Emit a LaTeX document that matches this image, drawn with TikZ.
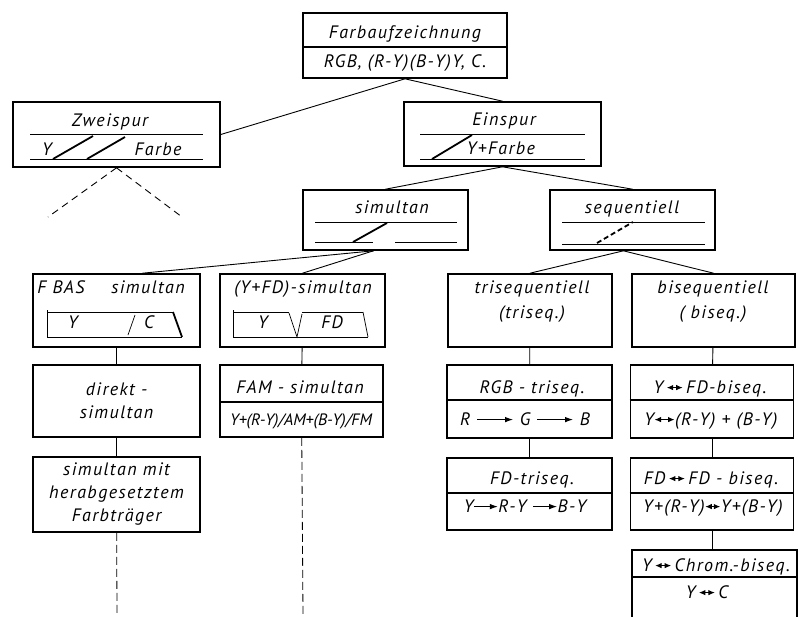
\documentclass[tikz,border=0pt]{standalone}
\usepackage{fontspec}
\setmainfont{PT Sans}
\newfontfamily\weitfont{PT Sans}[LetterSpace=8]
\usepackage{tikz}
\usetikzlibrary{arrows.meta,positioning,calc}

\newcommand{\nach}[1][20pt]{\tikz[baseline=-0.6ex]\draw[line width=1pt,-{Latex[length=8pt,width=5.5pt]}] (0pt,0pt) -- (#1,0pt);}
\newcommand{\hinher}[1][16pt]{\tikz[baseline=-0.6ex]\draw[line width=1pt,{Latex[length=6.5pt,width=5.5pt]}-{Latex[length=6.5pt,width=5.5pt]}] (0pt,0pt) -- (#1,0pt);}

\begin{document}
\begin{tikzpicture}[x=1pt, y=-1pt, >=Latex,
  every node/.style={font=\weitfont\itshape\fontsize{18}{23}\selectfont, align=center, inner sep=0pt},
  eng/.style={font=\normalfont\itshape\fontsize{16.5}{20}\selectfont},
  kasten/.style={draw, line width=1.6pt, minimum width=165pt, minimum height=73pt},
  ast/.style={line width=0.9pt},
  spur/.style={line width=0.7pt},
  schraeg/.style={line width=1.8pt},
  teil/.style={line width=1.1pt}]
\useasboundingbox (0,0) rectangle (798,616);

% Kaesten
\node (farb) [kasten, minimum width=204pt, minimum height=65pt] at (405,45.5) {};
\node (zwei) [kasten, minimum width=207pt, minimum height=65pt] at (116.5,134.5) {};
\node (ein) [kasten, minimum width=197pt, minimum height=64pt] at (502.5,134) {};
\node (simul) [kasten, minimum height=60pt] at (385.5,220) {};
\node (seq) [kasten, minimum height=60pt] at (632.5,220) {};
\node (fbas) [kasten, minimum width=167pt] at (116.5,310.5) {};
\node (yfd) [kasten] at (302.5,310.5) {};
\node (tri) [kasten, minimum width=164pt] at (530,310.5) {};
\node (bi) [kasten, minimum width=163pt] at (713.5,310.5) {};
\node (direkt) [kasten, minimum width=167pt, minimum height=72pt] at (116.5,401) {direkt -\\simultan};
\node (fam) [kasten, minimum width=163pt, minimum height=72pt] at (301.5,401) {};
\node (rgb) [kasten] at (529.5,401.5) {};
\node (yfdbi) [kasten, minimum width=163pt] at (712,401.5) {};
\node (mit) [kasten, minimum width=167pt, minimum height=75pt] at (116.5,494.5) {simultan mit\\herabgesetztem\\Farbträger};
\node (fdtri) [kasten, minimum height=72pt] at (529.5,494) {};
\node (fdfd) [kasten, minimum width=163pt, minimum height=72pt] at (712,494) {};
\node (chrom) [kasten, minimum height=80pt] at (714.5,590) {};

% Trennlinien
\draw[teil] (farb.west |- 0,47) -- (farb.east |- 0,47);
\draw[teil] (fam.west |- 0,402) -- (fam.east |- 0,402);
\draw[teil] (rgb.west |- 0,400) -- (rgb.east |- 0,400);
\draw[teil] (yfdbi.west |- 0,400) -- (yfdbi.east |- 0,400);
\draw[teil] (fdtri.west |- 0,493) -- (fdtri.east |- 0,493);
\draw[teil] (fdfd.west |- 0,493) -- (fdfd.east |- 0,493);
\draw[teil] (chrom.west |- 0,577) -- (chrom.east |- 0,577);

% Beschriftungen
\node (farbA) [anchor=base] at (405,38) {Farbaufzeichnung};
\node (farbB) [anchor=base] at (405,67) {RGB, (R-Y)(B-Y)Y, C.};
\node (zweiA) [anchor=base] at (110,126) {Zweispur};
\node (zweiY) [anchor=base] at (47,155) {Y};
\node (zweiF) [anchor=base] at (158,155) {Farbe};
\node (einA) [anchor=base] at (504,125) {Einspur};
\node (einB) [anchor=base] at (501,154) {Y+Farbe};
\node (simulA) [anchor=base] at (392,213) {simultan};
\node (seqA) [anchor=base] at (632,213) {sequentiell};
\node (fbasA) [anchor=base] at (61,293) {F BAS};
\node (fbasB) [anchor=base] at (148,293) {simultan};
\node (fbasY) [anchor=base] at (73,328) {Y};
\node (fbasC) [anchor=base] at (149,328) {C};
\node (yfdA) [anchor=base] at (303,293) {(Y+FD)-simultan};
\node (yfdY) [anchor=base] at (263,328) {Y};
\node (yfdF) [anchor=base] at (332,328) {FD};
\node (triA) [anchor=base] at (532,293) {trisequentiell};
\node (triB) [anchor=base] at (532,318) {(triseq.)};
\node (biA) [anchor=base] at (713,293) {bisequentiell};
\node (biB) [anchor=base] at (713,318) {( biseq.)};
\node (famA) [anchor=base] at (300,393) {FAM - simultan};
\node (famB) [anchor=base, eng] at (301,425) {Y+(R-Y)/AM+(B-Y)/FM};
\node (rgbA) [anchor=base] at (532,393) {RGB - triseq.};
\node (rgbB) [anchor=base] at (525,425) {R \nach[36pt] G \nach[36pt] B};
\node (yfdbiA) [anchor=base] at (710,393) {Y\,\hinher\,FD-biseq.};
\node (yfdbiB) [anchor=base] at (711,425) {Y\hinher[20pt](R-Y) + (B-Y)};
\node (fdtriA) [anchor=base] at (532,484) {FD-triseq.};
\node (fdtriB) [anchor=base] at (525,512) {Y\nach[24pt]R-Y \nach[24pt]B-Y};
\node (fdfdA) [anchor=base] at (711,484) {FD\,\hinher\,FD - biseq.};
\node (fdfdB) [anchor=base] at (713,512) {Y+(R-Y)\hinher[15pt]Y+(B-Y)};
\node (chromA) [anchor=base] at (716,571) {Y\,\hinher\,Chrom.-biseq.};
\node (chromB) [anchor=base] at (707,598) {Y\,\hinher\,C};

% Spursymbole
\draw[spur] (30,134) -- (203,134) (30,159) -- (203,159);
\draw[schraeg] (53,159) -- (93,136) (87,159) -- (125,137);
\draw[spur] (420,134) -- (585,134) (420,159) -- (585,159);
\draw[schraeg] (432,159) -- (472,135);
\draw[spur] (315,222) -- (457,222) (315,242) -- (373,242) (395,242) -- (457,242);
\draw[schraeg] (353,242) -- (387,223);
\draw[spur] (562,222) -- (705,222) (562,244) -- (705,244);
\draw[schraeg, dash pattern=on 5pt off 3pt] (597,243) -- (633,222);
\draw[spur] (47,310) -- (47,338) (47,312) -- (173,312) (47,337) -- (182,337);
\draw[schraeg] (173,312) -- (182,337);
\draw[spur] (128,335) -- (135,315);
\draw[spur] (233,310) -- (233,338) (233,312) -- (289,312) (302,312) -- (363,312) (233,337) -- (368,337);
\draw[spur] (289,313) -- (297,337) -- (302,314);
\draw[spur] (363,312) -- (368,337);

% Verbindungen
\coordinate (zweiL) at (48,217);
\coordinate (zweiR) at (182,217);
\coordinate (mitEnde) at (117,616);
\coordinate (famEnde) at (303,616);
\draw[ast] (farb.south) -- (zwei.east);
\draw[ast] (farb.south) -- (ein.north);
\draw[ast, dash pattern=on 7pt off 5pt] (zwei.south) -- (zweiL);
\draw[ast, dash pattern=on 7pt off 5pt] (zwei.south) -- (zweiR);
\draw[ast] (ein.south) -- (simul.north);
\draw[ast] (ein.south) -- (seq.north);
\draw[ast] ([xshift=-12pt]simul.south) -- ([xshift=26pt]fbas.north);
\draw[ast] ([xshift=-12pt]simul.south) -- (yfd.north);
\draw[ast] ([xshift=-9pt]seq.south) -- (tri.north);
\draw[ast] ([xshift=-9pt]seq.south) -- (bi.north);
\draw[ast] (fbas) -- (direkt);
\draw[ast] (direkt) -- (mit);
\draw[ast] (yfd) -- (fam);
\draw[ast] (tri) -- (rgb);
\draw[ast] (rgb) -- (fdtri);
\draw[ast] (bi) -- (yfdbi);
\draw[ast] (yfdbi) -- (fdfd);
\draw[ast] (fdfd.south) -- (chrom.north -| fdfd.south);
\draw[ast, line width=0.8pt, dash pattern=on 8pt off 4pt] (mit) -- (mitEnde);
\draw[ast, line width=0.8pt, dash pattern=on 8pt off 4pt] (fam) -- (famEnde);
\end{tikzpicture}
\end{document}
